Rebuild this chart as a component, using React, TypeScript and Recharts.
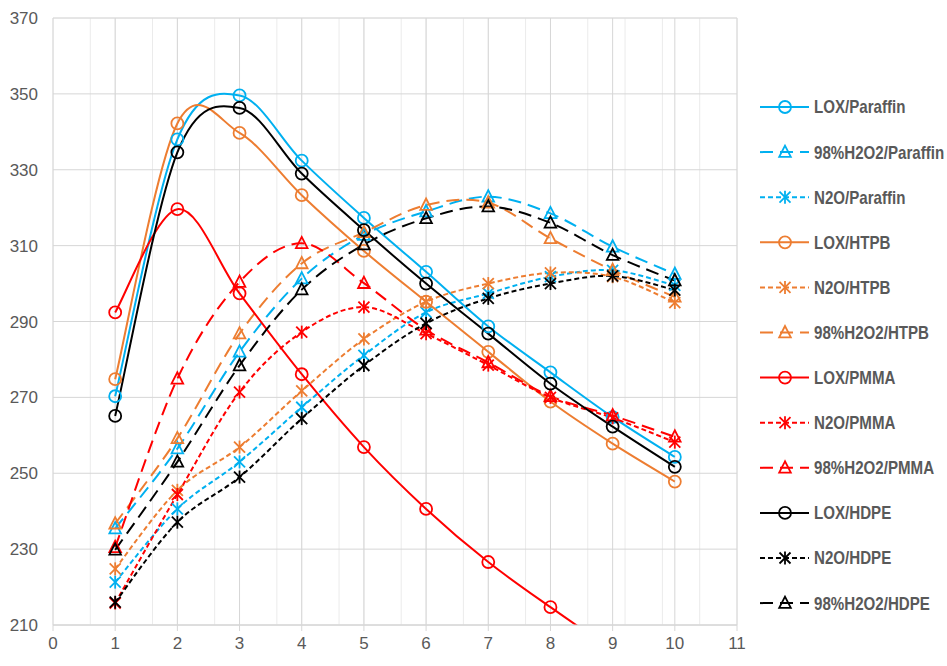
import React from "react";
import {
  LineChart,
  Line,
  XAxis,
  YAxis,
  CartesianGrid,
  Legend,
} from "recharts";

// ---------- data ----------
const X_VALUES = [1, 2, 3, 4, 5, 6, 7, 8, 9, 10];

const LOX_PARAFFIN = [270.3, 338.0, 349.6, 332.4, 317.3, 303.1, 288.7, 276.6, 264.8, 254.3];
const H2O2_PARAFFIN = [235.4, 256.5, 282.0, 301.3, 312.8, 319.0, 322.9, 318.5, 309.7, 302.5];
const N2O_PARAFFIN = [221.3, 240.6, 253.0, 267.4, 281.1, 292.4, 297.4, 301.8, 303.5, 299.5];
const LOX_HTPB = [274.8, 342.2, 339.7, 323.3, 308.6, 295.2, 282.0, 268.9, 257.8, 247.8];
const N2O_HTPB = [224.8, 245.5, 256.9, 271.7, 285.4, 295.2, 300.0, 302.8, 301.8, 295.0];
const H2O2_HTPB = [236.7, 259.2, 286.8, 305.3, 313.5, 320.7, 321.3, 311.9, 303.5, 296.5];
const LOX_PMMA = [292.4, 319.6, 297.4, 276.1, 256.9, 240.6, 226.6, 214.7, 203.5, 193.0];
const N2O_PMMA = [215.8, 244.4, 271.4, 287.2, 293.8, 286.8, 278.5, 270.0, 264.6, 258.2];
const H2O2_PMMA = [230.5, 274.9, 300.4, 310.6, 300.1, 287.8, 279.2, 270.3, 265.2, 259.6];
const LOX_HDPE = [265.1, 334.6, 346.3, 329.0, 314.1, 300.0, 286.8, 273.6, 262.3, 251.7];
const N2O_HDPE = [216.0, 237.1, 249.0, 264.4, 278.4, 289.5, 296.1, 300.0, 302.0, 298.3];
const H2O2_HDPE = [229.8, 253.0, 278.4, 298.4, 310.3, 317.2, 320.3, 316.0, 307.5, 300.8];

const X_TICKS = [0, 1, 2, 3, 4, 5, 6, 7, 8, 9, 10, 11];
const Y_TICKS = [210, 230, 250, 270, 290, 310, 330, 350, 370];
const X_MINOR_TICKS = Array.from({ length: 56 }, (_, i) => Math.round(i * 2) / 10);
const Y_MINOR_TICKS = Array.from({ length: 41 }, (_, i) => 210 + i * 4);

// ---------- styles ----------
const BLUE = "#00B0F0";
const ORANGE = "#ED7D31";
const RED = "#FF0000";
const BLACK = "#000000";

const SOLID = undefined;
const LONG_DASH = "13 7";
const SHORT_DASH = "5 3";

type MarkerKind = "circle" | "triangle" | "star";

const SERIES: {
  key: string;
  name: string;
  values: number[];
  color: string;
  dash: string | undefined;
  marker: MarkerKind;
}[] = [
  { key: "lp", name: "LOX/Paraffin", values: LOX_PARAFFIN, color: BLUE, dash: SOLID, marker: "circle" },
  { key: "hp", name: "98%H2O2/Paraffin", values: H2O2_PARAFFIN, color: BLUE, dash: LONG_DASH, marker: "triangle" },
  { key: "np", name: "N2O/Paraffin", values: N2O_PARAFFIN, color: BLUE, dash: SHORT_DASH, marker: "star" },
  { key: "lh", name: "LOX/HTPB", values: LOX_HTPB, color: ORANGE, dash: SOLID, marker: "circle" },
  { key: "nh", name: "N2O/HTPB", values: N2O_HTPB, color: ORANGE, dash: SHORT_DASH, marker: "star" },
  { key: "hh", name: "98%H2O2/HTPB", values: H2O2_HTPB, color: ORANGE, dash: LONG_DASH, marker: "triangle" },
  { key: "lm", name: "LOX/PMMA", values: LOX_PMMA, color: RED, dash: SOLID, marker: "circle" },
  { key: "nm", name: "N2O/PMMA", values: N2O_PMMA, color: RED, dash: SHORT_DASH, marker: "star" },
  { key: "hm", name: "98%H2O2/PMMA", values: H2O2_PMMA, color: RED, dash: LONG_DASH, marker: "triangle" },
  { key: "ld", name: "LOX/HDPE", values: LOX_HDPE, color: BLACK, dash: SOLID, marker: "circle" },
  { key: "nd", name: "N2O/HDPE", values: N2O_HDPE, color: BLACK, dash: SHORT_DASH, marker: "star" },
  { key: "hd", name: "98%H2O2/HDPE", values: H2O2_HDPE, color: BLACK, dash: LONG_DASH, marker: "triangle" },
];

const TABLE = X_VALUES.map((x, i) => {
  const row: Record<string, number> = { x };
  SERIES.forEach((s) => {
    row[s.key] = s.values[i];
  });
  return row;
});

// Excel-like smoothed line (Catmull-Rom -> Bezier)
const excelSmooth = (context: any) => {
  let pts: [number, number][] = [];
  return {
    areaStart() {},
    areaEnd() {},
    lineStart() {
      pts = [];
    },
    lineEnd() {
      const n = pts.length;
      if (!n) return;
      context.moveTo(pts[0][0], pts[0][1]);
      if (n === 1) return;
      for (let i = 0; i < n - 1; i++) {
        const p0 = pts[i - 1] || pts[i];
        const p1 = pts[i];
        const p2 = pts[i + 1];
        const p3 = pts[i + 2] || pts[i + 1];
        const c1x = p1[0] + (p2[0] - p0[0]) / 6;
        const c1y = p1[1] + (p2[1] - p0[1]) / 6;
        const c2x = p2[0] - (p3[0] - p1[0]) / 6;
        const c2y = p2[1] - (p3[1] - p1[1]) / 6;
        context.bezierCurveTo(c1x, c1y, c2x, c2y, p2[0], p2[1]);
      }
    },
    point(x: number, y: number) {
      pts.push([+x, +y]);
    },
  };
};

const Marker = ({
  kind,
  cx,
  cy,
  color,
}: {
  kind: MarkerKind;
  cx: number;
  cy: number;
  color: string;
}) => {
  if (cx == null || cy == null || isNaN(cx) || isNaN(cy)) return null;
  const sw = 1.8;
  if (kind === "circle") {
    return <circle cx={cx} cy={cy} r={6} fill="none" stroke={color} strokeWidth={sw} />;
  }
  if (kind === "triangle") {
    const pts = `${cx},${cy - 6.5} ${cx - 5.8},${cy + 4.8} ${cx + 5.8},${cy + 4.8}`;
    return <polygon points={pts} fill="none" stroke={color} strokeWidth={sw} strokeLinejoin="miter" />;
  }
  return (
    <g stroke={color} strokeWidth={sw} fill="none">
      <line x1={cx} y1={cy - 6.5} x2={cx} y2={cy + 6.5} />
      <line x1={cx - 5.5} y1={cy - 5.5} x2={cx + 5.5} y2={cy + 5.5} />
      <line x1={cx - 5.5} y1={cy + 5.5} x2={cx + 5.5} y2={cy - 5.5} />
    </g>
  );
};

const TEXT_GRAY = "#595959";

const renderLegend = () => {
  const step = 45.1;
  return (
    <svg width={192} height={540} style={{ display: "block", overflow: "visible" }}>
      {SERIES.map((s, i) => {
        const y = 22 + i * step;
        return (
          <g key={s.key}>
            <line
              x1={5}
              y1={y}
              x2={54}
              y2={y}
              stroke={s.color}
              strokeWidth={2}
              strokeDasharray={s.dash === SHORT_DASH ? "5 3" : s.dash === LONG_DASH ? "13 7" : undefined}
            />
            <Marker kind={s.marker} cx={30} cy={y} color={s.color} />
            <g transform={`translate(59,${y}) scale(0.84,1)`}>
              <text
                x={0}
                y={0}
                dy="0.36em"
                fill={TEXT_GRAY}
                fontSize={18}
                fontWeight={700}
                fontFamily="'Liberation Sans', Arial, sans-serif"
              >
                {s.name}
              </text>
            </g>
          </g>
        );
      })}
    </svg>
  );
};

const tickStyle = {
  fill: TEXT_GRAY,
  fontSize: 17,
  fontFamily: "'Liberation Sans', Arial, sans-serif",
};

export default function App() {
  return (
    <div style={{ position: "absolute", left: 0, top: 0, width: 947, height: 666, background: "#fff" }}>
      <LineChart
        width={947}
        height={666}
        data={TABLE}
        margin={{ top: 18, right: 210, bottom: 0, left: 0 }}
      >
        <XAxis
          xAxisId="minor"
          dataKey="x"
          type="number"
          domain={[0, 11]}
          ticks={X_MINOR_TICKS}
          hide
        />
        <YAxis yAxisId="minor" type="number" domain={[210, 370]} ticks={Y_MINOR_TICKS} hide />
        <CartesianGrid xAxisId="minor" yAxisId="minor" stroke="#ebebeb" strokeWidth={1} />
        <CartesianGrid stroke="#d6d6d6" strokeWidth={1} />
        <XAxis
          dataKey="x"
          type="number"
          domain={[0, 11]}
          ticks={X_TICKS}
          interval={0}
          height={41}
          axisLine={{ stroke: "#d6d6d6" }}
          tickLine={{ stroke: "#d6d6d6" }}
          tickSize={6}
          tickMargin={6}
          tick={tickStyle}
        />
        <YAxis
          type="number"
          domain={[210, 370]}
          ticks={Y_TICKS}
          interval={0}
          allowDataOverflow
          width={53}
          axisLine={false}
          tickLine={false}
          tickSize={0}
          tickMargin={15}
          tick={tickStyle}
        />
        {SERIES.map((s) => (
          <Line
            key={s.key}
            dataKey={s.key}
            name={s.name}
            type={excelSmooth as any}
            stroke={s.color}
            strokeWidth={2}
            strokeDasharray={s.dash}
            isAnimationActive={false}
            dot={(p: any) => (
              <Marker key={`${s.key}-${p.index}`} kind={s.marker} cx={p.cx} cy={p.cy} color={s.color} />
            )}
            activeDot={false}
          />
        ))}
        <Legend
          layout="horizontal"
          align="center"
          verticalAlign="middle"
          content={renderLegend}
          wrapperStyle={{ left: 755, top: 85, width: 192, height: 540 }}
        />
      </LineChart>
    </div>
  );
}
